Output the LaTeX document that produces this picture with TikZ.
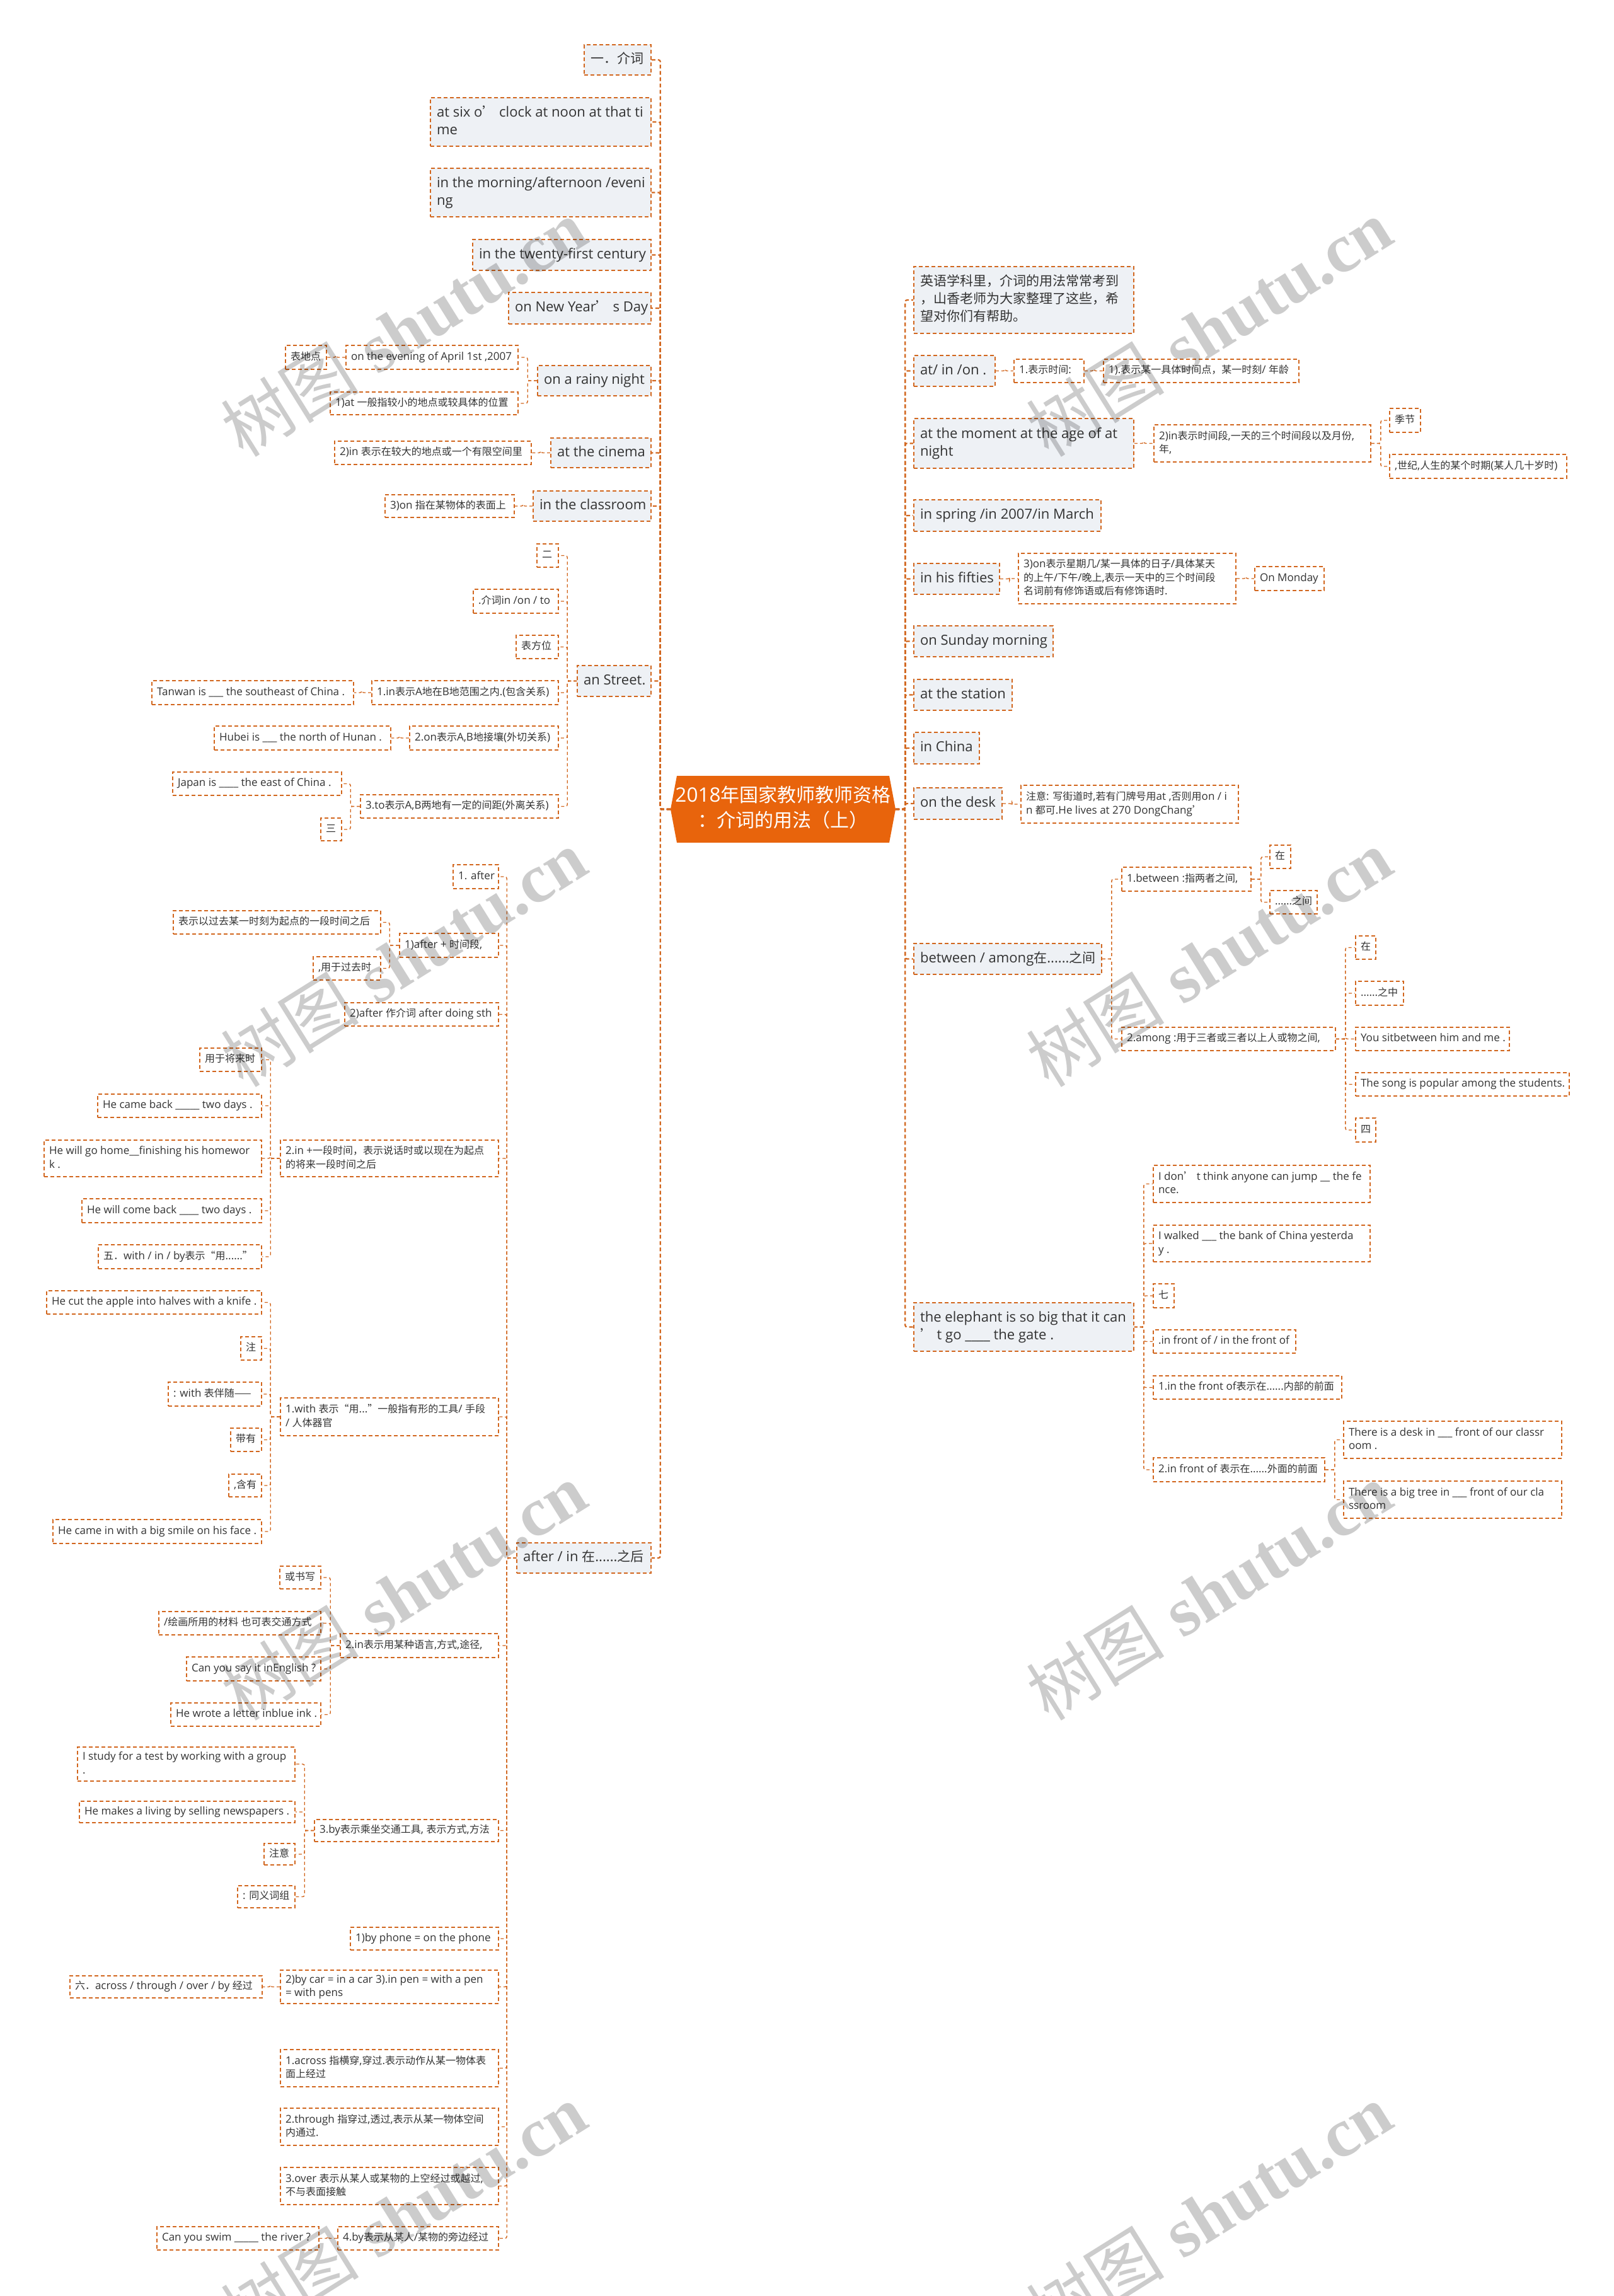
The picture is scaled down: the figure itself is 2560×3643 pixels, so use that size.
\documentclass[tikz,border=0pt]{standalone}
\usepackage{fontspec}
\setmainfont{Open Sans}[Scale=1.05]
\newfontfamily\latA{Open Sans}[Scale=1.05]
\newfontfamily\latB{Open Sans}[Scale=1.065]
\newfontfamily\cjkfam{Noto Sans CJK SC}
\newfontfamily\wmlat{Liberation Serif}
\newfontfamily\wmcjk{Noto Sans CJK SC}
\let\curlat\latA
% CJK characters switch to the CJK family automatically
\count255="4E00
\loop \XeTeXcharclass\count255=1 \advance\count255 by 1 \ifnum\count255<"A000 \repeat
\count255="3000
\loop \XeTeXcharclass\count255=1 \advance\count255 by 1 \ifnum\count255<"3040 \repeat
\count255="FF00
\loop \XeTeXcharclass\count255=1 \advance\count255 by 1 \ifnum\count255<"FFF0 \repeat
\XeTeXcharclass"2014=1 \XeTeXcharclass"2018=1 \XeTeXcharclass"2019=1
\XeTeXcharclass"201C=1 \XeTeXcharclass"201D=1
\XeTeXinterchartoks 0 1 = {\cjkfam}
\XeTeXinterchartoks 4095 1 = {\cjkfam}
\XeTeXinterchartoks 1 0 = {\curlat}
\XeTeXinterchartoks 1 4095 = {\curlat}
\XeTeXinterchartoks 0 2 = {\cjkfam}
\XeTeXinterchartoks 4095 2 = {\cjkfam}
\XeTeXinterchartoks 2 0 = {\curlat}
\XeTeXinterchartoks 2 4095 = {\curlat}
\XeTeXinterchartoks 0 3 = {\cjkfam}
\XeTeXinterchartoks 4095 3 = {\cjkfam}
\XeTeXinterchartoks 3 0 = {\curlat}
\XeTeXinterchartoks 3 4095 = {\curlat}
\definecolor{ln}{HTML}{D2671F}
\definecolor{rootc}{HTML}{E8640C}
\definecolor{gfill}{HTML}{EEF1F5}
\definecolor{tx}{HTML}{333333}
\tikzset{
 boxbase/.style={draw=ln, line width=1.6pt, dash pattern=on 6pt off 4pt, inner ysep=2pt, text=tx, anchor=center},
 lone/.style={boxbase, fill=gfill, inner xsep=10pt, font=\fontsize{21}{28}\selectfont\latA\let\curlat\latA},
 ltwo/.style={boxbase, fill=white, inner xsep=8pt, font=\fontsize{16}{21.5}\selectfont\latB\let\curlat\latB},
 trunk/.style={draw=ln, line width=2.2pt, dash pattern=on 6pt off 4pt, rounded corners=3pt},
 sub/.style={draw=ln, line width=1.4pt, dash pattern=on 5pt off 4pt, rounded corners=3pt},
 wm/.style={rotate=32, text=black, opacity=0.2, font=\fontsize{110}{110}\selectfont},
}
\newcommand\mkbox[8]{%
 \pgfmathsetmacro\bxw{#4-#2}%
 \pgfmathsetmacro\bxh{#5-#3}%
 \pgfmathsetmacro\bxt{#4-#2-2*#7}%
 \pgfmathsetmacro\bxcx{(#2+#4)/2}%
 \pgfmathsetmacro\bxcy{(#3+#5)/2}%
 \node[#6, minimum width=\bxw pt, minimum height=\bxh pt] (#1) at (\bxcx,\bxcy)
   {\makebox[\bxt pt][l]{\begin{tabular}{@{}l@{}}#8\end{tabular}}};}
\newcommand\nA[6]{\mkbox{#1}{#2}{#3}{#4}{#5}{lone}{10}{#6}}
\newcommand\nB[6]{\mkbox{#1}{#2}{#3}{#4}{#5}{ltwo}{8}{#6}}
\newcommand\lk[2]{\draw[sub] (#1.west) -- ++(-15,0) |- (#2.east);}
\newcommand\rk[2]{\draw[sub] (#1.east) -- ++(15,0) |- (#2.west);}
\begin{document}
\XeTeXinterchartokenstate=1
\begin{tikzpicture}[x=1pt,y=-1pt]
\useasboundingbox (0,0) rectangle (2560,3643);
\fill[white] (0,0) rectangle (2560,3643);
% root
\fill[rootc] (1074,1231) -- (1411,1231) -- (1421,1284) -- (1411,1337) -- (1074,1337) -- (1064,1284) -- cycle;
\node[minimum width=357pt, minimum height=106pt, inner sep=0pt, text=white, font=\fontsize{30}{40}\selectfont] (root) at (1242.5,1284)
 {\begin{tabular}{@{}c@{}}2018年国家教师教师资格\\：介词的用法（上）\end{tabular}};
% left level 1
\nA{a1}{927}{71}{1033}{119}{一．介词}
\nA{a2}{683}{155}{1033}{232}{at six o’ clock at noon at that ti\\me}
\nA{a3}{683}{267}{1033}{344}{in the morning/afternoon /eveni\\ng}
\nA{a4}{750}{380}{1033}{429}{in the twenty-first century}
\nA{a5}{807}{464}{1033}{514}{on New Year’ s Day}
\nA{a6}{853}{580}{1033}{628}{on a rainy night}
\nA{a7}{874}{695}{1033}{742}{at the cinema}
\nA{a8}{846}{779}{1033}{827}{in the classroom}
\nA{a9}{916}{1056}{1033}{1105}{an Street.}
\nA{a10}{820}{2448}{1033}{2496}{after / in 在......之后}
% left level 2+
\nB{b1}{549}{548}{822}{586}{on the evening of April 1st ,2007}
\nB{b2}{453}{548}{518}{586}{表地点}
\nB{b3}{524}{622}{822}{658}{1)at 一般指较小的地点或较具体的位置}
\nB{b4}{531}{700}{843}{737}{2)in 表示在较大的地点或一个有限空间里}
\nB{b5}{611}{785}{816}{821}{3)on 指在某物体的表面上}
\nB{c1}{852}{863}{886}{900}{二}
\nB{c2}{751}{935}{886}{973}{.介词in /on / to}
\nB{c3}{819}{1008}{886}{1045}{表方位}
\nB{c4}{590}{1080}{886}{1118}{1.in表示A地在B地范围之内.(包含关系)}
\nB{c5}{241}{1080}{561}{1118}{Tanwan is \_\_\_ the southeast of China .}
\nB{c6}{650}{1152}{886}{1190}{2.on表示A,B地接壤(外切关系)}
\nB{c7}{340}{1152}{620}{1190}{Hubei is \_\_\_ the north of Hunan .}
\nB{c8}{572}{1261}{886}{1298}{3.to表示A,B两地有一定的间距(外离关系)}
\nB{c9}{274}{1225}{542}{1262}{Japan is \_\_\_\_ the east of China .}
\nB{c10}{509}{1298}{542}{1334}{三}
\nB{d1}{719}{1372}{791}{1410}{1. after}
\nB{d2}{634}{1481}{791}{1519}{1)after + 时间段,}
\nB{d3}{275}{1445}{604}{1482}{表示以过去某一时刻为起点的一段时间之后}
\nB{d4}{497}{1518}{604}{1555}{,用于过去时}
\nB{d5}{547}{1591}{791}{1628}{2)after 作介词 after doing sth}
\nB{d6}{445}{1809}{791}{1867}{2.in +一段时间，表示说话时或以现在为起点\\的将来一段时间之后}
\nB{d7}{317}{1663}{415}{1700}{用于将来时}
\nB{d8}{155}{1736}{415}{1773}{He came back \_\_\_\_\_ two days .}
\nB{d9}{70}{1809}{415}{1867}{He will go home\_\_finishing his homewor\\k .}
\nB{d10}{130}{1902}{415}{1940}{He will come back \_\_\_\_ two days .}
\nB{d11}{156}{1975}{415}{2013}{五．with / in / by表示“用......”}
\nB{d12}{445}{2218}{791}{2278}{1.with 表示“用...”一般指有形的工具/ 手段\\/ 人体器官}
\nB{d13}{74}{2048}{415}{2085}{He cut the apple into halves with a knife .}
\nB{d14}{382}{2121}{415}{2158}{注}
\nB{d15}{267}{2193}{415}{2231}{: with 表伴随——}
\nB{d16}{366}{2266}{415}{2303}{带有}
\nB{d17}{363}{2339}{415}{2375}{,含有}
\nB{d18}{84}{2411}{415}{2449}{He came in with a big smile on his face .}
\nB{d19}{540}{2592}{791}{2630}{2.in表示用某种语言,方式,途径,}
\nB{d20}{444}{2485}{509}{2521}{或书写}
\nB{d21}{252}{2557}{509}{2594}{/绘画所用的材料 也可表交通方式}
\nB{d22}{296}{2629}{509}{2667}{Can you say it inEnglish ?}
\nB{d23}{271}{2702}{509}{2739}{He wrote a letter inblue ink .}
\nB{d24}{499}{2887}{791}{2922}{3.by表示乘坐交通工具, 表示方式,方法}
\nB{d25}{123}{2772}{468}{2826}{I study for a test by working with a group\\.}
\nB{d26}{126}{2858}{468}{2892}{He makes a living by selling newspapers .}
\nB{d27}{419}{2925}{468}{2959}{注意}
\nB{d28}{377}{2992}{468}{3027}{: 同义词组}
\nB{d29}{556}{3058}{791}{3094}{1)by phone = on the phone}
\nB{d30}{445}{3126}{791}{3179}{2)by car = in a car 3).in pen = with a pen\\= with pens}
\nB{d31}{111}{3135}{416}{3170}{六．across / through / over / by 经过}
\nB{d32}{445}{3252}{791}{3311}{1.across 指横穿,穿过.表示动作从某一物体表\\面上经过}
\nB{d33}{445}{3345}{791}{3404}{2.through 指穿过,透过,表示从某一物体空间\\内通过.}
\nB{d34}{445}{3439}{791}{3498}{3.over 表示从某人或某物的上空经过或越过,\\不与表面接触}
\nB{d35}{536}{3533}{791}{3570}{4.by表示从某人/某物的旁边经过}
\nB{d36}{249}{3533}{506}{3570}{Can you swim \_\_\_\_\_ the river ?}
% right level 1
\nA{r1}{1450}{423}{1799}{529}{英语学科里，介词的用法常常考到\\，山香老师为大家整理了这些，希\\望对你们有帮助。}
\nA{r2}{1450}{564}{1579}{613}{at/ in /on .}
\nA{r3}{1450}{664}{1799}{743}{at the moment at the age of at\\night}
\nA{r4}{1450}{793}{1747}{843}{in spring /in 2007/in March}
\nA{r5}{1450}{894}{1586}{943}{in his fifties}
\nA{r6}{1450}{993}{1671}{1042}{on Sunday morning}
\nA{r7}{1450}{1078}{1606}{1127}{at the station}
\nA{r8}{1450}{1162}{1554}{1212}{in China}
\nA{r9}{1450}{1250}{1590}{1300}{on the desk}
\nA{r10}{1450}{1497}{1748}{1546}{between / among在......之间}
\nA{r11}{1450}{2067}{1799}{2144}{the elephant is so big that it can\\’ t go \_\_\_\_ the gate .}
% right level 2+
\nB{s1}{1609}{570}{1720}{607}{1.表示时间:}
\nB{s2}{1751}{570}{2061}{607}{1).表示某一具体时间点，某一时刻/ 年龄}
\nB{s3}{1831}{674}{2175}{733}{2)in表示时间段,一天的三个时间段以及月份,\\年,}
\nB{s4}{2205}{648}{2254}{686}{季节}
\nB{s5}{2205}{721}{2486}{759}{,世纪,人生的某个时期(某人几十岁时)}
\nB{s6}{1616}{878}{1961}{958}{3)on表示星期几/某一具体的日子/具体某天\\的上午/下午/晚上,表示一天中的三个时间段\\名词前有修饰语或后有修饰语时.}
\nB{s7}{1991}{899}{2101}{937}{On Monday}
\nB{s8}{1620}{1246}{1965}{1306}{注意: 写街道时,若有门牌号用at ,否则用on / i\\n 都可.He lives at 270 DongChang’}
\nB{t1}{1780}{1376}{1985}{1414}{1.between :指两者之间,}
\nB{t2}{2015}{1341}{2048}{1378}{在}
\nB{t3}{2015}{1413}{2090}{1450}{......之间}
\nB{t4}{1780}{1630}{2119}{1667}{2.among :用于三者或三者以上人或物之间,}
\nB{t5}{2151}{1485}{2183}{1522}{在}
\nB{t6}{2151}{1557}{2227}{1595}{......之中}
\nB{t7}{2151}{1630}{2395}{1667}{You sitbetween him and me .}
\nB{t8}{2151}{1702}{2490}{1739}{The song is popular among the students.}
\nB{t9}{2151}{1774}{2183}{1812}{四}
\nB{u1}{1830}{1849}{2174}{1908}{I don’ t think anyone can jump \_\_ the fe\\nce.}
\nB{u2}{1830}{1944}{2174}{2002}{I walked \_\_\_ the bank of China yesterda\\y .}
\nB{u3}{1830}{2037}{1863}{2075}{七}
\nB{u4}{1830}{2110}{2056}{2147}{.in front of / in the front of}
\nB{u5}{1830}{2183}{2129}{2220}{1.in the front of表示在......内部的前面}
\nB{u6}{1830}{2313}{2102}{2351}{2.in front of 表示在......外面的前面}
\nB{u7}{2132}{2255}{2478}{2314}{There is a desk in \_\_\_ front of our classr\\oom .}
\nB{u8}{2132}{2350}{2478}{2409}{There is a big tree in \_\_\_ front of our cla\\ssroom}
% trunks
\foreach \n in {a1,a2,a3,a4,a5,a6,a7,a8,a9,a10}{\draw[trunk] (root.west) -- ++(-16,0) |- (\n.east);}
\foreach \n in {r1,r2,r3,r4,r5,r6,r7,r8,r9,r10,r11}{\draw[trunk] (root.east) -- ++(15,0) |- (\n.west);}
% left sub links
\lk{a6}{b1}\lk{a6}{b3}\lk{b1}{b2}\lk{a7}{b4}\lk{a8}{b5}
\foreach \n in {c1,c2,c3,c4,c6,c8}{\lk{a9}{\n}}
\lk{c4}{c5}\lk{c6}{c7}\lk{c8}{c9}\lk{c8}{c10}
\foreach \n in {d1,d2,d5,d6,d12,d19,d24,d29,d30,d32,d33,d34,d35}{\lk{a10}{\n}}
\lk{d2}{d3}\lk{d2}{d4}
\foreach \n in {d7,d8,d9,d10,d11}{\lk{d6}{\n}}
\foreach \n in {d13,d14,d15,d16,d17,d18}{\lk{d12}{\n}}
\foreach \n in {d20,d21,d22,d23}{\lk{d19}{\n}}
\foreach \n in {d25,d26,d27,d28}{\lk{d24}{\n}}
\lk{d30}{d31}\lk{d35}{d36}
% right sub links
\rk{r2}{s1}\rk{s1}{s2}\rk{r3}{s3}\rk{s3}{s4}\rk{s3}{s5}
\rk{r5}{s6}\rk{s6}{s7}\rk{r9}{s8}
\rk{r10}{t1}\rk{r10}{t4}\rk{t1}{t2}\rk{t1}{t3}
\foreach \n in {t5,t6,t7,t8,t9}{\rk{t4}{\n}}
\foreach \n in {u1,u2,u3,u4,u5,u6}{\rk{r11}{\n}}
\rk{u6}{u7}\rk{u6}{u8}
% watermarks
\foreach \wx/\wy [count=\i] in {640/520,1918/520,640/1520,1918/1520,640/2525,1918/2525,640/3510,1918/3510}{
 \node[wm] (wm\i) at (\wx,\wy) {\XeTeXinterchartokenstate=0 {\wmcjk 树图} {\wmlat\bfseries shutu.cn}};}
\end{tikzpicture}
\end{document}
